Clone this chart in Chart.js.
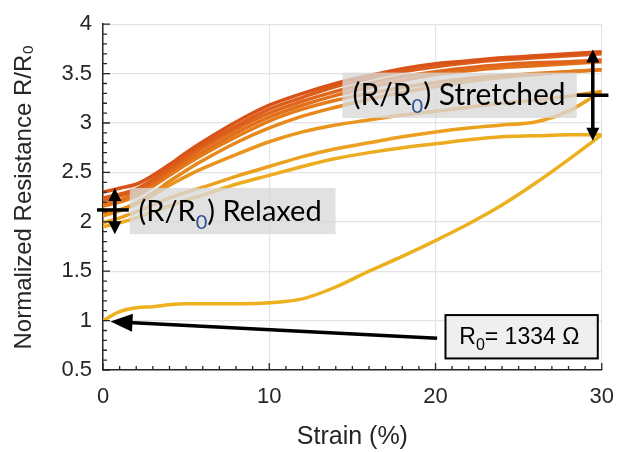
<!DOCTYPE html>
<html>
<head>
<meta charset="utf-8">
<script src="https://cdn.jsdelivr.net/npm/chart.js@4.4.1/dist/chart.umd.min.js"></script>
<style>
  html, body { margin: 0; padding: 0; background: #fff; }
  #wrap { width: 628px; height: 452px; }
</style>
</head>
<body>
<div id="wrap"><canvas id="chart" width="628" height="452"></canvas></div>
<script>
// strain (%) sample points, shared by every sweep
const strain  = [0, 1, 2, 3, 4, 5, 6, 8, 10, 12, 14, 16, 18, 20, 22, 24, 26, 28, 30];

// R/R0, one array per sweep (load / unload)
const load1   = [1.00, 1.09, 1.13, 1.14, 1.16, 1.17, 1.17, 1.17, 1.18, 1.22, 1.34, 1.50, 1.65, 1.81, 1.98, 2.17, 2.39, 2.63, 2.88];
const unload1 = [1.95, 1.99, 2.04, 2.10, 2.16, 2.22, 2.27, 2.38, 2.47, 2.56, 2.64, 2.70, 2.75, 2.79, 2.83, 2.86, 2.87, 2.88, 2.88];
const load2   = [1.99, 2.04, 2.10, 2.17, 2.24, 2.30, 2.35, 2.46, 2.56, 2.66, 2.74, 2.80, 2.86, 2.91, 2.95, 2.98, 3.01, 3.12, 3.32];
const unload2 = [2.06, 2.11, 2.18, 2.27, 2.37, 2.46, 2.54, 2.68, 2.81, 2.91, 2.98, 3.03, 3.08, 3.12, 3.16, 3.20, 3.23, 3.27, 3.32];
const load3   = [2.08, 2.12, 2.19, 2.29, 2.41, 2.52, 2.62, 2.80, 2.95, 3.07, 3.16, 3.24, 3.31, 3.37, 3.42, 3.46, 3.49, 3.52, 3.54];
const unload3 = [2.16, 2.20, 2.26, 2.36, 2.47, 2.58, 2.68, 2.86, 3.02, 3.14, 3.23, 3.30, 3.36, 3.41, 3.45, 3.48, 3.50, 3.52, 3.54];
const load4   = [2.18, 2.22, 2.28, 2.38, 2.50, 2.61, 2.71, 2.90, 3.06, 3.18, 3.28, 3.36, 3.43, 3.49, 3.53, 3.56, 3.58, 3.60, 3.62];
const unload4 = [2.22, 2.26, 2.31, 2.40, 2.52, 2.64, 2.75, 2.94, 3.10, 3.22, 3.32, 3.40, 3.47, 3.52, 3.56, 3.59, 3.61, 3.62, 3.64];
const load5   = [2.24, 2.28, 2.33, 2.43, 2.55, 2.67, 2.78, 2.97, 3.14, 3.26, 3.37, 3.45, 3.52, 3.57, 3.61, 3.64, 3.66, 3.68, 3.70];
const unload5 = [2.30, 2.34, 2.38, 2.47, 2.58, 2.70, 2.81, 3.01, 3.18, 3.30, 3.40, 3.48, 3.55, 3.60, 3.63, 3.66, 3.68, 3.70, 3.72];

const sweepNames  = ['load 1', 'unload 1', 'load 2', 'unload 2', 'load 3', 'unload 3', 'load 4', 'unload 4', 'load 5', 'unload 5'];
const sweepValues = [load1, unload1, load2, unload2, load3, unload3, load4, unload4, load5, unload5];
const sweepColors = ['#edb120', '#edac20', '#eba01f', '#e9941e', '#e7881d', '#e57c1c', '#e2701b', '#df661a', '#dc5c19', '#d95319'];

const xTicks = [0, 10, 20, 30];
const yTicks = [0.5, 1, 1.5, 2, 2.5, 3, 3.5, 4];

// annotation text
const relaxedLabel   = ['(R/R', '0', ') Relaxed'];
const stretchedLabel = ['(R/R', '0', ') Stretched'];
const r0Label        = ['R', '0', '= 1334 \u03A9'];

const axisColor = '#262626';
const tickFont = "'Liberation Sans', Arial, sans-serif";
const noteFont = "Lato, 'Open Sans', sans-serif";

function arrowHead(ctx, x1, y1, x2, y2, len, half) {
  const a = Math.atan2(y2 - y1, x2 - x1);
  const bx = x2 - len * Math.cos(a), by = y2 - len * Math.sin(a);
  ctx.beginPath();
  ctx.moveTo(x2, y2);
  ctx.lineTo(bx + half * Math.sin(a), by - half * Math.cos(a));
  ctx.lineTo(bx - half * Math.sin(a), by + half * Math.cos(a));
  ctx.closePath();
  ctx.fill();
}

function subText(ctx, parts, x, y, size, family, subColor) {
  ctx.textBaseline = 'alphabetic';
  ctx.textAlign = 'left';
  ctx.font = size + 'px ' + family;
  ctx.fillStyle = '#000';
  ctx.fillText(parts[0], x, y);
  x += ctx.measureText(parts[0]).width;
  ctx.font = Math.round(size * 0.68) + 'px ' + family;
  ctx.fillStyle = subColor;
  ctx.fillText(parts[1], x, y + size * 0.28);
  x += ctx.measureText(parts[1]).width;
  ctx.font = size + 'px ' + family;
  ctx.fillStyle = '#000';
  ctx.fillText(parts[2], x, y);
}

const decor = {
  id: 'decor',
  afterDatasetsDraw(chart) {
    const ctx = chart.ctx;
    const xs = chart.scales.x, ys = chart.scales.y;
    const X = v => xs.getPixelForValue(v), Y = v => ys.getPixelForValue(v);
    const area = chart.chartArea;
    ctx.save();

    // inward ticks, matlab style
    ctx.strokeStyle = axisColor;
    ctx.lineWidth = 1.3;
    ctx.beginPath();
    for (let v = 0; v <= 30; v += 1) {
      const len = v % 10 === 0 ? 7 : 4;
      ctx.moveTo(X(v), area.bottom); ctx.lineTo(X(v), area.bottom - len);
    }
    for (let i = 5; i <= 40; i++) {
      const len = i % 5 === 0 ? 7 : 4;
      ctx.moveTo(area.left, Y(i / 10)); ctx.lineTo(area.left + len, Y(i / 10));
    }
    ctx.stroke();

    // translucent label boxes
    ctx.fillStyle = 'rgba(217,217,217,0.78)';
    ctx.fillRect(X(1.61), Y(2.343), X(13.99) - X(1.61), Y(1.875) - Y(2.343));
    ctx.fillRect(X(14.4), Y(3.51), X(28.5) - X(14.4), Y(3.05) - Y(3.51));

    subText(ctx, relaxedLabel, X(2.14), Y(2.01), 29, noteFont, '#2e4f96');
    subText(ctx, stretchedLabel, X(15.0), Y(3.184), 30, noteFont, '#2e4f96');

    // double arrows + level markers
    ctx.strokeStyle = '#000';
    ctx.fillStyle = '#000';
    ctx.lineWidth = 3.5;
    const dbl = (x, yTop, yBot) => {
      const px = X(x), t = Y(yTop), b = Y(yBot);
      ctx.beginPath(); ctx.moveTo(px, t + 10); ctx.lineTo(px, b - 10); ctx.stroke();
      arrowHead(ctx, px, b, px, t, 13, 6.5);
      arrowHead(ctx, px, t, px, b, 13, 6.5);
    };
    dbl(0.71, 2.343, 1.875);
    ctx.beginPath(); ctx.moveTo(X(-0.36), Y(2.12)); ctx.lineTo(X(1.55), Y(2.12)); ctx.stroke();
    dbl(29.46, 3.745, 2.82);
    ctx.beginPath(); ctx.moveTo(X(28.5), Y(3.28)); ctx.lineTo(X(30.4), Y(3.28)); ctx.stroke();

    // R0 box and arrow
    const bx = X(20.6), by = Y(1.056), bw = X(29.76) - X(20.6), bh = Y(0.617) - Y(1.056);
    ctx.fillStyle = '#efefef';
    ctx.fillRect(bx, by, bw, bh);
    ctx.lineWidth = 2;
    ctx.strokeStyle = '#000';
    ctx.strokeRect(bx, by, bw, bh);
    subText(ctx, r0Label, X(21.43), Y(0.763), 23, tickFont, '#000');

    ctx.lineWidth = 3.5;
    ctx.fillStyle = '#000';
    const ax1 = X(20.1), ay1 = Y(0.822), ax2 = X(0.45), ay2 = Y(0.99);
    const ang = Math.atan2(ay2 - ay1, ax2 - ax1);
    ctx.beginPath();
    ctx.moveTo(ax1, ay1);
    ctx.lineTo(ax2 - 18 * Math.cos(ang), ay2 - 18 * Math.sin(ang));
    ctx.stroke();
    arrowHead(ctx, ax1, ay1, ax2, ay2, 22, 9);

    ctx.restore();
  }
};

const datasets = sweepValues.map((vals, i) => ({
  label: sweepNames[i],
  data: strain.map((s, j) => ({ x: s, y: vals[j] })),
  borderColor: sweepColors[i],
  borderWidth: 3.5,
  pointRadius: 0,
  cubicInterpolationMode: 'monotone',
  fill: false,
  order: sweepValues.length - i
}));

new Chart(document.getElementById('chart'), {
  type: 'line',
  data: { datasets: datasets },
  options: {
    responsive: false,
    animation: false,
    events: [],
    layout: { padding: { left: 0, right: 21, top: 13, bottom: 0 } },
    plugins: { legend: { display: false }, tooltip: { enabled: false } },
    scales: {
      x: {
        type: 'linear',
        min: 0, max: 30,
        afterBuildTicks: s => { s.ticks = xTicks.map(v => ({ value: v })); },
        afterFit: s => { s.height = 82; },
        grid: { color: '#e3e3e3', lineWidth: 1.2, drawTicks: false },
        border: { display: true, color: axisColor, width: 1.5 },
        ticks: { color: axisColor, padding: 14, font: { family: tickFont, size: 22 },
                 callback: v => String(v) },
        title: { display: true, text: 'Strain (%)', color: axisColor,
                 padding: { top: 0, bottom: 0 }, font: { family: tickFont, size: 25 } }
      },
      y: {
        type: 'linear',
        min: 0.5, max: 4,
        afterBuildTicks: s => { s.ticks = yTicks.map(v => ({ value: v })); },
        afterFit: s => { s.width = 103; },
        grid: { color: '#e3e3e3', lineWidth: 1.2, drawTicks: false },
        border: { display: true, color: axisColor, width: 1.5 },
        ticks: { color: axisColor, padding: 11, font: { family: tickFont, size: 22 },
                 callback: v => String(v) },
        title: { display: true, text: 'Normalized Resistance R/R\u2080', color: axisColor,
                 padding: { top: 10, bottom: 0 }, font: { family: tickFont, size: 24 } }
      }
    }
  },
  plugins: [decor]
});
</script>
</body>
</html>
